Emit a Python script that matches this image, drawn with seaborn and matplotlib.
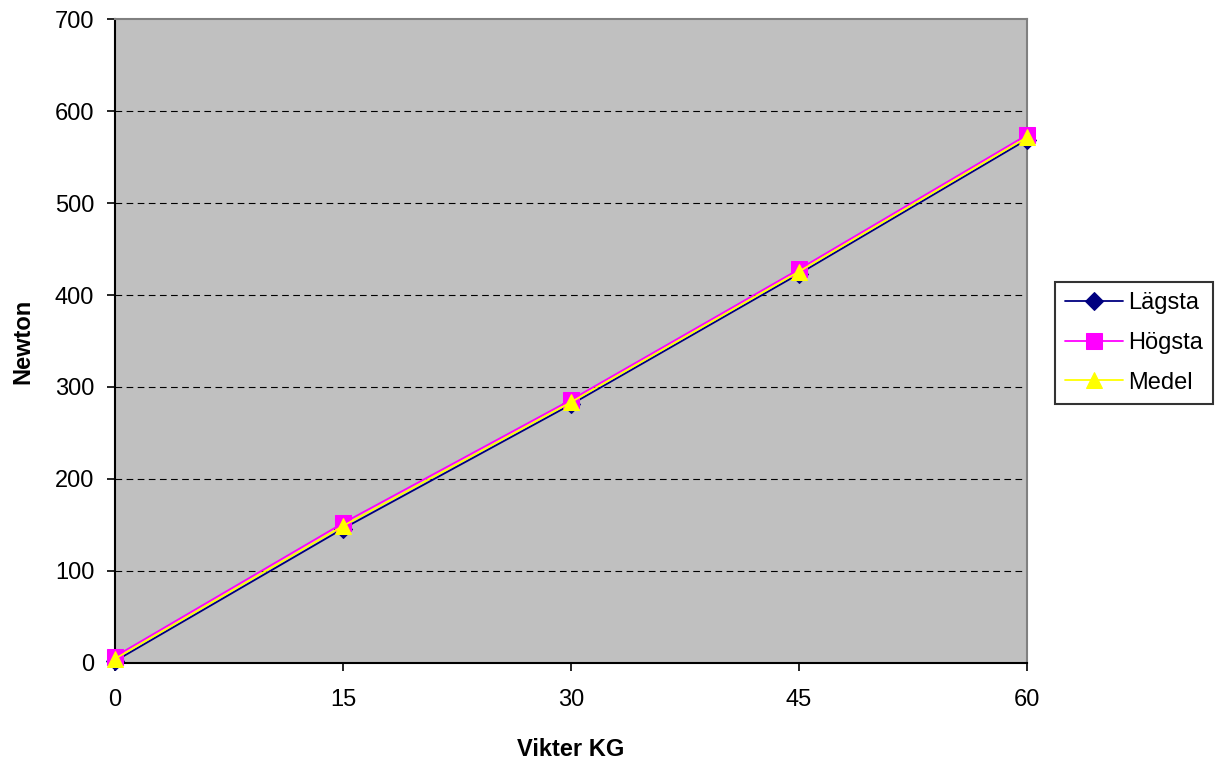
import matplotlib
matplotlib.use("Agg")
import matplotlib.pyplot as plt
import seaborn as sns
import pandas as pd

vikter = [0, 15, 30, 45, 60]
lagsta = [2, 146, 281, 423, 569]
hogsta = [7, 152, 286, 428, 574]
medel = [4.5, 149, 283.5, 425.5, 571.5]
series_names = ["Lägsta", "Högsta", "Medel"]
colors = ["#000080", "#FF00FF", "#FFFF00"]
markers = ["D", "s", "^"]
msizes = [9, 11, 12]

df = pd.DataFrame({
    "Vikter KG": vikter * 3,
    "Newton": lagsta + hogsta + medel,
    "Serie": sum([[n] * len(vikter) for n in series_names], []),
})

sns.set_style("white")
plt.rcParams['font.family'] = ['Liberation Sans', 'DejaVu Sans']
plt.rcParams['text.color'] = 'black'
plt.rcParams['axes.labelcolor'] = 'black'
plt.rcParams['xtick.color'] = 'black'
plt.rcParams['ytick.color'] = 'black'

FS = 17

fig = plt.figure(figsize=(12.2, 7.62), dpi=100)
ax = fig.add_axes([0.0943, 0.130, 0.7475, 0.845])
ax.set_facecolor("#C0C0C0")

for name, c, m, ms in zip(series_names, colors, markers, msizes):
    sub = df[df["Serie"] == name]
    sns.lineplot(data=sub, x="Vikter KG", y="Newton", ax=ax, color=c,
                 marker=m, markersize=ms, markeredgecolor=c, linewidth=1.3,
                 label=name, clip_on=False, zorder=3)

ax.set_xlim(0, 60)
ax.set_ylim(0, 700)
ax.set_xticks([0, 15, 30, 45, 60])
ax.set_yticks(range(0, 701, 100))
for y in range(100, 700, 100):
    ax.axhline(y, color="black", linestyle=(0, (6, 4)), linewidth=0.8, zorder=0.5)

for s in ["top", "right"]:
    ax.spines[s].set_color("#808080")
    ax.spines[s].set_linewidth(1.5)
for s in ["left", "bottom"]:
    ax.spines[s].set_color("black")
    ax.spines[s].set_linewidth(1.5)
    ax.spines[s].set_zorder(2.5)

ax.tick_params(axis="both", which="both", direction="out", length=6, width=1.2,
               labelsize=FS, color="black", labelcolor="black", left=True, bottom=True)
ax.tick_params(axis="y", pad=9)
ax.tick_params(axis="x", pad=13)
ax.set_xlabel("Vikter KG", fontsize=FS, fontweight="bold", labelpad=19)
ax.set_ylabel("Newton", fontsize=FS, fontweight="bold", labelpad=15)

leg = ax.legend(loc="center left", bbox_to_anchor=(0.8645, 0.55), bbox_transform=fig.transFigure,
                frameon=True, fancybox=False, fontsize=FS, handlelength=2.45,
                borderpad=0.45, labelspacing=0.75, handletextpad=0.2, borderaxespad=0)
leg.get_frame().set_edgecolor("black")
leg.get_frame().set_linewidth(1.5)

fig.savefig("out.png", dpi=100, facecolor="white")
